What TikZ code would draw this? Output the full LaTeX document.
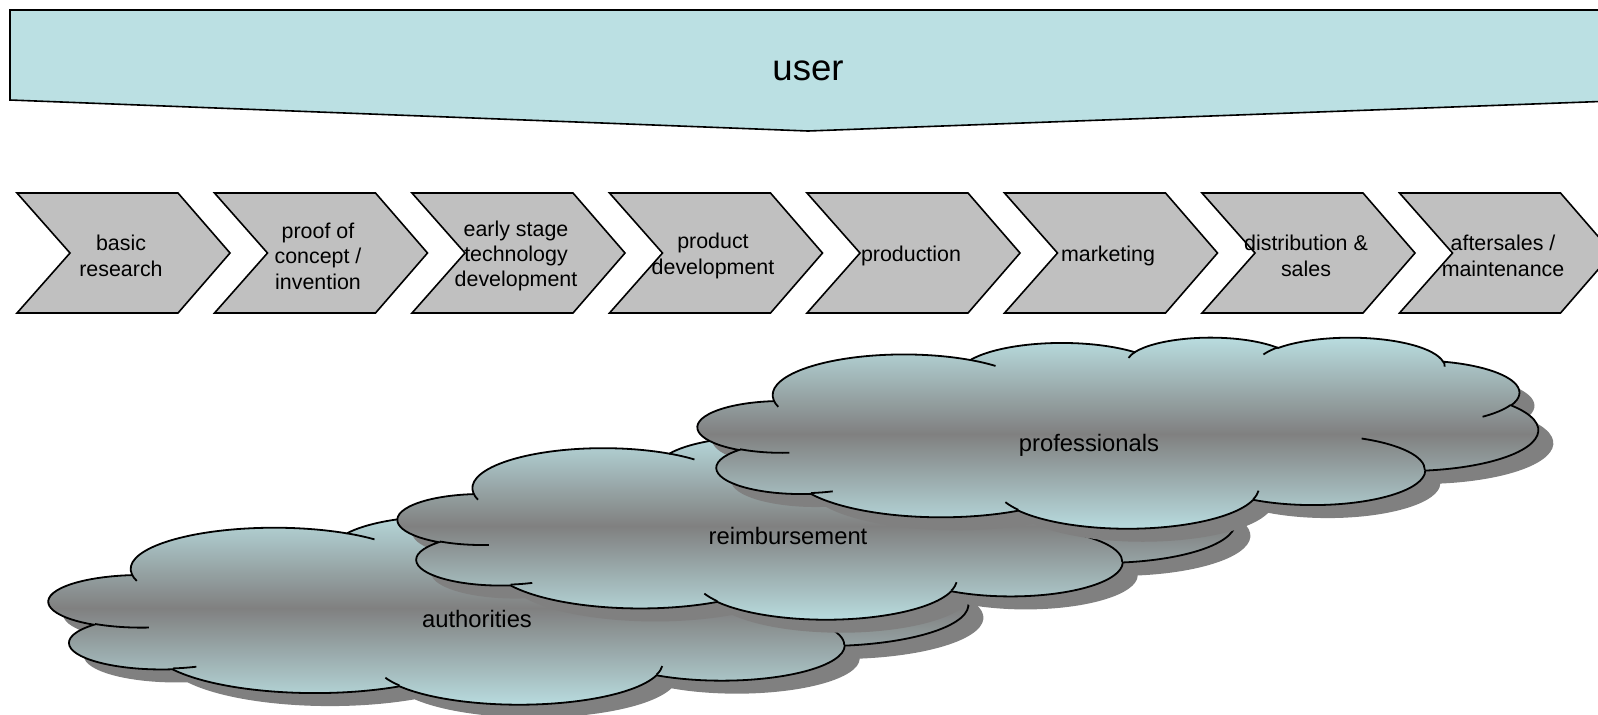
\documentclass[tikz,border=0pt]{standalone}
\usepackage{fontspec}
\setmainfont{Liberation Sans}
\definecolor{paleblue}{HTML}{BBE0E3}
\definecolor{chevgray}{HTML}{C0C0C0}
\definecolor{shadowgray}{HTML}{808080}

\tikzset{
  declare function={pang(\rx,\ry,\an)=atan2(\rx*sin(\an),\ry*cos(\an));},
  banner/.style={draw=black,line width=0.8pt,fill=paleblue},
  usertext/.style={font=\fontsize{18.3}{22}\selectfont,inner sep=0pt},
  chevronbox/.style={draw=black,line width=0.8pt,fill=chevgray,line join=miter},
  steptext/.style={align=center,font=\fontsize{10.7}{12.7}\selectfont,inner sep=0pt},
  cloudbody/.style={draw=black,line width=0.9pt,top color=paleblue,bottom color=paleblue,middle color=shadowgray},
  cloudshadow/.style={fill=shadowgray},
  cloudedge/.style={draw=black,line width=0.9pt},
  cloudtext/.style={font=\fontsize{11.9}{14}\selectfont,inner sep=0pt}
}

% elliptic arc, angles given as seen from the centre
\newcommand\oarc[4]{arc[x radius=#1,y radius=#2,start angle={pang(#1,#2,#3)},delta angle={mod(pang(#1,#2,#3+#4)-pang(#1,#2,#3)+720,360)}]}

% cloud outline in a 432 x 432 box
\newcommand\cloudline{(39.00,143.70)
  \oarc{67.53}{91.90}{-190.4875}{123.7805}
  \oarc{53.33}{72.67}{-144.1024}{89.9452}
  \oarc{43.65}{59.45}{-145.8079}{99.7230}
  \oarc{48.57}{65.95}{-130.9861}{117.2417}
  \oarc{53.33}{72.73}{-78.7089}{109.0269}
  \oarc{67.75}{92.20}{-46.2673}{130.2690}
  \oarc{57.85}{78.67}{0.6250}{114.0333}
  \oarc{67.52}{92.15}{22.4516}{115.1726}
  \oarc{77.20}{105.43}{66.2426}{75.7110}
  \oarc{43.60}{59.18}{-274.9421}{146.7356}
  \oarc{43.45}{59.45}{-246.8285}{152.5189}
  -- cycle}

% the short inner strokes
\newcommand\cloudhooks{
  (46.93,261.77) \oarc{43.45}{59.45}{86.7420}{26.4295}
  (69.28,348.99) \oarc{43.60}{59.18}{73.6105}{11.4475}
  (164.78,390.90) \oarc{67.52}{92.15}{137.6242}{14.0811}
  (288.27,347.51) \oarc{67.52}{92.15}{6.4533}{15.9984}
  (341.29,229.54) \oarc{57.85}{78.67}{-70.2924}{70.9174}
  (417.98,153.54) \oarc{53.33}{72.73}{30.3180}{27.7515}
  (383.24,54.26) \oarc{48.57}{65.95}{-13.7443}{14.8589}
  (290.78,39.52) \oarc{48.57}{65.95}{-149.1815}{18.1954}
  (221.41,47.20) \oarc{43.65}{59.45}{-163.4943}{17.6864}
  (140.00,51.92) \oarc{67.53}{91.90}{-66.7070}{12.3194}
  (41.27,157.89) \oarc{67.53}{91.90}{157.6544}{11.8582}}

\newcommand\putcloud[4]{%
  \begin{scope}[shift={(#1+15,#2+13)},x=#3,y=#4]
    \fill[cloudshadow] \cloudline;
  \end{scope}
  \begin{scope}[shift={(#1,#2)},x=#3,y=#4]
    \shadedraw[cloudbody] \cloudline;
    \draw[cloudedge] \cloudhooks;
  \end{scope}}

\begin{document}
\begin{tikzpicture}[x=0.5pt,y=-0.5pt]
  \useasboundingbox (0,0) rectangle (1598,714);
  \clip (0,0) rectangle (1598,714);

  % user banner
  \draw[banner] (10,10) -- (1640,10) -- (1640,100) -- (808,131) -- (10,100) -- cycle;
  \node[usertext] (user) at (808,71) {user};

  % value chain
  \foreach \k in {0,...,7}
    \draw[chevronbox] ({17+197.5*\k},193) -- ++(161,0) -- ++(52,60) -- ++(-52,60) -- ++(-161,0) -- ++(53,-60) -- cycle;

  \node[steptext] (basic) at (121,256) {basic\\research};
  \node[steptext] (proof) at (318,256) {proof of\\concept /\\invention};
  \node[steptext] (early) at (516,256) {early stage\\technology\\development};
  \node[steptext] (product) at (713,256) {product\\development};
  \node[steptext] (production) at (911,256) {production};
  \node[steptext] (marketing) at (1108,256) {marketing};
  \node[steptext] (distribution) at (1306,256) {distribution \&\\sales};
  \node[steptext] (aftersales) at (1503,256) {aftersales /\\maintenance};

  % clouds
  \putcloud{49}{510}{1.0637pt}{-0.2245pt}
  \node[cloudtext] (authorities) at (477,619) {authorities};
  \putcloud{398}{431}{0.9688pt}{-0.2176pt}
  \node[cloudtext] (reimbursement) at (788,536) {reimbursement};
  \putcloud{698}{337}{0.9722pt}{-0.2211pt}
  \node[cloudtext] (professionals) at (1089,445) {professionals};
\end{tikzpicture}
\end{document}
